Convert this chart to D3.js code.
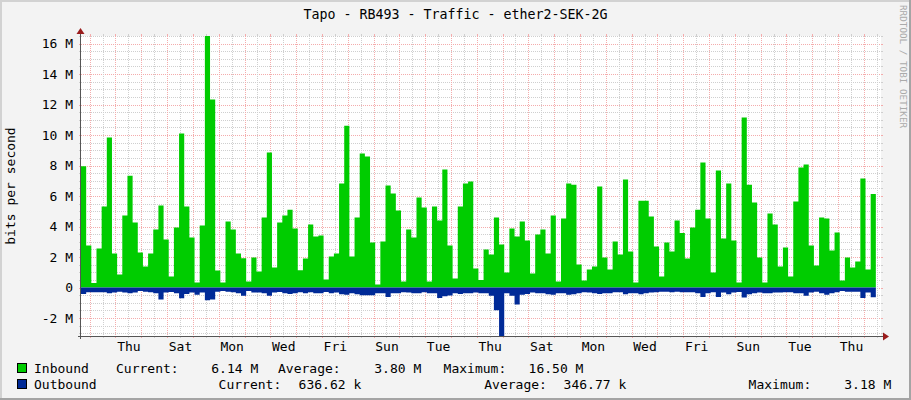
<!DOCTYPE html>
<html>
<head>
<meta charset="utf-8">
<script src="https://cdn.jsdelivr.net/npm/d3@7/dist/d3.min.js"></script>
<style>
  html, body { margin: 0; padding: 0; background: #f3f3f3; }
  svg { display: block; }
  text { font-family: "DejaVu Sans Mono", monospace; }
</style>
</head>
<body>
<svg id="chart" width="911" height="400"></svg>
<script>
// ---------------- data ----------------
const title = "Tapo - RB493 - Traffic - ether2-SEK-2G";
const yAxisTitle = "bits per second";
const watermark = "RRDTOOL / TOBI OETIKER";

// one sample every 17280 s (4.8 h); first sample starts Tue 2024-01-02 15:55 UTC
const startTime = Date.UTC(2024, 0, 2, 15, 55);
const stepMs = 17280 * 1000;
const spanDays = 31;

// Inbound, Mbit/s
const inbound = [
  7.96, 2.75, 0.30, 2.56, 5.31, 9.84, 2.23, 0.85, 4.72, 7.34, 4.26, 2.30, 1.38, 2.23, 3.80, 5.38, 3.15, 0.72, 3.93, 10.10,
  5.31, 3.28, 0.33, 4.07, 16.50, 12.33, 1.11, 0.33, 4.33, 3.80, 2.23, 1.92, 0.39, 1.97, 1.05, 4.59, 8.85, 1.31, 4.26,
  4.72, 5.11, 3.87, 1.14, 1.90, 4.13, 3.34, 3.41, 0.52, 2.03, 2.23, 6.82, 10.62, 2.03, 4.59, 8.79, 8.59, 2.95, 0.20, 3.02,
  6.69, 6.16, 5.05, 0.39, 3.80, 3.28, 5.90, 5.25, 0.39, 5.31, 4.39, 7.74, 2.75, 0.59, 5.31, 6.82, 6.95, 1.25, 0.50,
  2.49, 2.16, 4.59, 2.82, 0.98, 3.87, 3.34, 4.33, 3.08, 0.92, 3.48, 3.80, 2.23, 4.72, 0.39, 4.52, 6.82, 6.75, 1.51, 0.46,
  1.18, 1.38, 6.62, 1.97, 1.18, 3.02, 2.16, 7.08, 2.36, 0.33, 5.70, 5.70, 4.66, 2.69, 0.72, 2.95, 2.36, 4.39, 3.58,
  1.90, 3.93, 5.11, 8.20, 4.52, 0.98, 7.67, 3.21, 6.82, 3.08, 0.33, 11.15, 6.75, 5.57, 1.97, 0.33, 4.85, 4.13, 1.38, 2.62,
  0.72, 5.64, 7.87, 8.07, 2.75, 1.44, 4.59, 4.52, 2.43, 3.61, 0.46, 1.97, 1.31, 1.70, 7.15, 1.18, 6.14
];

// Outbound, Mbit/s (drawn below zero)
const outbound = [
  0.42, 0.31, 0.31, 0.31, 0.31, 0.375, 0.33, 0.27, 0.33, 0.375, 0.33, 0.23, 0.27, 0.31, 0.375, 0.79, 0.33, 0.29, 0.375, 0.71,
  0.42, 0.33, 0.48, 0.33, 0.83, 0.79, 0.27, 0.23, 0.27, 0.31, 0.375, 0.54, 0.23, 0.33, 0.33, 0.375, 0.54, 0.33, 0.29,
  0.375, 0.42, 0.375, 0.31, 0.375, 0.31, 0.375, 0.375, 0.29, 0.375, 0.33, 0.44, 0.48, 0.375, 0.44, 0.50, 0.50, 0.50, 0.375, 0.375,
  0.625, 0.375, 0.375, 0.31, 0.33, 0.375, 0.375, 0.31, 0.375, 0.375, 0.69, 0.58, 0.52, 0.375, 0.42, 0.375, 0.375, 0.33, 0.375,
  0.375, 0.54, 1.49, 3.18, 0.375, 0.54, 1.11, 0.48, 0.42, 0.33, 0.375, 0.375, 0.44, 0.48, 0.375, 0.375, 0.48, 0.44, 0.375, 0.31,
  0.33, 0.375, 0.42, 0.375, 0.375, 0.31, 0.31, 0.44, 0.375, 0.375, 0.44, 0.375, 0.33, 0.31, 0.27, 0.27, 0.31, 0.27, 0.31,
  0.31, 0.31, 0.375, 0.625, 0.375, 0.31, 0.625, 0.33, 0.44, 0.33, 0.29, 0.65, 0.44, 0.375, 0.33, 0.375, 0.375, 0.33, 0.33, 0.31,
  0.31, 0.375, 0.375, 0.54, 0.33, 0.27, 0.375, 0.48, 0.375, 0.31, 0.23, 0.27, 0.27, 0.27, 0.69, 0.33, 0.64
];

const yMajorTicks = [-2, 0, 2, 4, 6, 8, 10, 12, 14, 16];   // M
const yRange = [-3.18, 16.50];                              // M
const seriesNames = ["Inbound", "Outbound"];
const seriesColors = ["#00cc00", "#002a97"];
const legendLabels = ["Current:", "Average:", "Maximum:"];
const inboundStats = ["6.14 M", "3.80 M", "16.50 M"];
const outboundStats = ["636.62 k", "346.77 k", "3.18 M"];

// ---------------- layout ----------------
const W = 911, H = 400;
const X0 = 81, X1 = 881, Y0 = 336, Y1 = 36;
const FS = 13;

const svg = d3.select("#chart");

// background + 3d border
svg.append("rect").attr("width", W).attr("height", H).attr("fill", "#f3f3f3");
svg.append("rect").attr("x", 0).attr("y", 0).attr("width", W).attr("height", 2).attr("fill", "#d2d2d2");
svg.append("rect").attr("x", 0).attr("y", 0).attr("width", 2).attr("height", H).attr("fill", "#d2d2d2");
svg.append("rect").attr("x", 0).attr("y", H - 2).attr("width", W).attr("height", 2).attr("fill", "#a4a4a4");
svg.append("rect").attr("x", W - 2).attr("y", 0).attr("width", 2).attr("height", H).attr("fill", "#a4a4a4");

// canvas
svg.append("rect").attr("x", X0).attr("y", Y1).attr("width", X1 - X0).attr("height", Y0 - Y1).attr("fill", "#ffffff");

const endTime = startTime + spanDays * 86400000;
const x = d3.scaleUtc().domain([new Date(startTime), new Date(endTime)]).range([X0, X1]);
const y = d3.scaleLinear().domain([yRange[0] * 1e6, yRange[1] * 1e6]).range([Y0, Y1]);

const crisp = v => Math.round(v) + 0.5;
const grid = svg.append("g").attr("shape-rendering", "crispEdges");

const minorCol = "#cfcfcf", majorCol = "#f4acac";

// horizontal grid
const yMinor = d3.range(-3.0, 16.5 + 0.001, 0.5).filter(v => Math.abs(v % 2) > 0.01);
function hLine(v, col) {
  const yy = crisp(y(v * 1e6));
  grid.append("line").attr("x1", X0).attr("x2", X1).attr("y1", yy).attr("y2", yy)
    .attr("stroke", col).attr("stroke-dasharray", "1,1");
  grid.append("line").attr("x1", X0 - 2).attr("x2", X0).attr("y1", yy).attr("y2", yy).attr("stroke", col);
  grid.append("line").attr("x1", X1).attr("x2", X1 + 2).attr("y1", yy).attr("y2", yy).attr("stroke", col);
}
yMinor.forEach(v => hLine(v, minorCol));
yMajorTicks.forEach(v => hLine(v, majorCol));

// vertical grid
const days = d3.utcDay.range(new Date(startTime), new Date(endTime));
const noons = days.map(d => d3.utcHour.offset(d, 12)).filter(d => +d < endTime);
function vLine(d, col) {
  const xx = crisp(x(d));
  grid.append("line").attr("x1", xx).attr("x2", xx).attr("y1", Y1).attr("y2", Y0)
    .attr("stroke", col).attr("stroke-dasharray", "1,1");
  grid.append("line").attr("x1", xx).attr("x2", xx).attr("y1", Y0).attr("y2", Y0 + 2).attr("stroke", col);
  grid.append("line").attr("x1", xx).attr("x2", xx).attr("y1", Y1 - 2).attr("y2", Y1).attr("stroke", col);
}
noons.forEach(d => vLine(d, minorCol));
days.forEach(d => vLine(d, majorCol));

// ---------------- series ----------------
function toPoints(arr, sign) {
  const pts = arr.map((v, i) => ({ t: new Date(startTime + i * stepMs), v: sign * v * 1e6 }));
  pts.push({ t: new Date(startTime + arr.length * stepMs), v: sign * arr[arr.length - 1] * 1e6 });
  return pts;
}
const area = d3.area().curve(d3.curveStepAfter)
  .x(d => x(d.t)).y0(y(0)).y1(d => Math.max(Y1, Math.min(Y0, y(d.v))));

svg.append("path").datum(toPoints(inbound, 1)).attr("d", area).attr("fill", seriesColors[0]);
svg.append("path").datum(toPoints(outbound, -1)).attr("d", area).attr("fill", seriesColors[1]);

// ---------------- axes ----------------
const axisCol = "#555555", arrowCol = "#9a1c1c";
svg.append("line").attr("x1", 78).attr("x2", 884).attr("y1", Y0 + 0.5).attr("y2", Y0 + 0.5)
  .attr("stroke", axisCol).attr("shape-rendering", "crispEdges");
svg.append("line").attr("x1", X0 - 0.5).attr("x2", X0 - 0.5).attr("y1", 339).attr("y2", 32)
  .attr("stroke", axisCol).attr("shape-rendering", "crispEdges");
svg.append("path").attr("d", "M883,332.5 L889,336.5 L883,340.5 Z").attr("fill", arrowCol);
svg.append("path").attr("d", "M76.5,34 L80.5,28 L84.5,34 Z").attr("fill", arrowCol);

// x labels (every second day, centered at noon)
const labelDays = days.filter((d, i) => i % 2 === 1).map(d => d3.utcHour.offset(d, 12)).filter(d => +d < endTime);
const xAxis = d3.axisBottom(x).tickValues(labelDays).tickFormat(d3.utcFormat("%a")).tickSize(0).tickPadding(6);
const gx = svg.append("g").attr("transform", `translate(0,${Y0})`).call(xAxis);
gx.select(".domain").remove();
gx.selectAll("text").attr("font-family", "DejaVu Sans Mono").attr("font-size", FS).attr("fill", "#000");

// y labels
const yAxis = d3.axisLeft(y).tickValues(yMajorTicks.map(v => v * 1e6))
  .tickFormat(d => d === 0 ? "0" : (d / 1e6) + " M").tickSize(0).tickPadding(8);
const gy = svg.append("g").attr("transform", `translate(${X0},0)`).call(yAxis);
gy.select(".domain").remove();
gy.selectAll("text").attr("font-family", "DejaVu Sans Mono").attr("font-size", FS).attr("fill", "#000");

// titles
svg.append("text").attr("x", 455.5).attr("y", 19).attr("text-anchor", "middle")
  .attr("font-size", 13.3).attr("fill", "#000").text(title);
svg.append("text").attr("transform", "translate(15,186) rotate(-90)").attr("text-anchor", "middle")
  .attr("font-size", FS).attr("fill", "#000").text(yAxisTitle);
svg.append("text").attr("transform", "translate(900,5) rotate(90)").attr("text-anchor", "start")
  .attr("font-size", 9.3).attr("fill", "#aaaaaa").text(watermark);

// ---------------- legend ----------------
const legendRows = [
  { name: seriesNames[0], color: seriesColors[0], stats: inboundStats, base: 373, box: 363.5,
    xs: [116, 211.3, 278, 374.3, 443.6, 528.6] },
  { name: seriesNames[1], color: seriesColors[1], stats: outboundStats, base: 389, box: 379.5,
    xs: [218.6, 298.6, 484.3, 563.6, 748.6, 844.3] }
];
legendRows.forEach(r => {
  svg.append("rect").attr("x", 17.5).attr("y", r.box).attr("width", 9).attr("height", 9)
    .attr("fill", r.color).attr("stroke", "#000").attr("stroke-width", 1).attr("shape-rendering", "crispEdges");
  svg.append("text").attr("x", 34).attr("y", r.base).attr("font-size", FS).attr("fill", "#000").text(r.name);
  const pieces = [legendLabels[0], r.stats[0], legendLabels[1], r.stats[1], legendLabels[2], r.stats[2]];
  pieces.forEach((p, i) => {
    svg.append("text").attr("x", r.xs[i]).attr("y", r.base).attr("font-size", FS).attr("fill", "#000")
      .attr("xml:space", "preserve").text(p);
  });
});
</script>
</body>
</html>
